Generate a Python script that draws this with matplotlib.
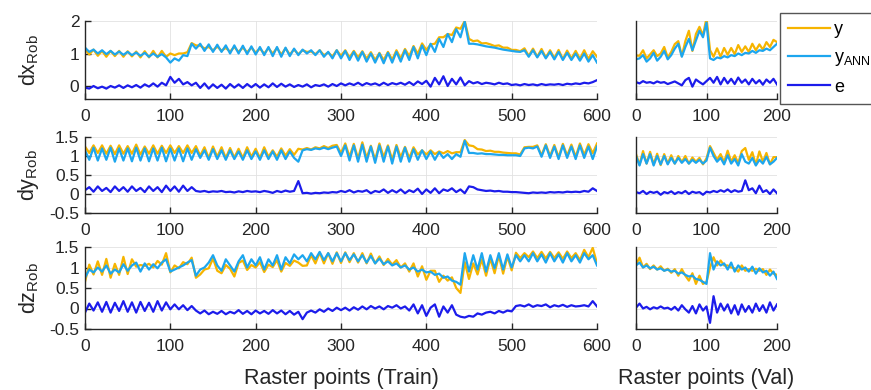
import numpy as np
import matplotlib
matplotlib.use("Agg")
import matplotlib.pyplot as plt

plt.rcParams['font.family'] = ['Liberation Sans', 'DejaVu Sans']
plt.rcParams['mathtext.fontset'] = 'custom'
plt.rcParams['mathtext.rm'] = 'Liberation Sans'
plt.rcParams['mathtext.it'] = 'Liberation Sans:italic'
plt.rcParams['axes.unicode_minus'] = False

# raster indices (every 5th point)
t_train = np.arange(0, 601, 5)
t_val = np.arange(0, 201, 5)

# --- dx_Rob ---------------------------------------------------------------
dx_ann_train = [
    1.18, 1.05, 1.12, 1.00, 1.10, 0.98, 1.08, 0.97, 1.06, 0.96,
    1.05, 0.95, 1.03, 0.93, 1.02, 0.90, 1.00, 0.90, 0.98, 0.88,
    0.72, 0.85, 0.78, 0.95, 0.92, 1.30, 1.15, 1.30, 1.08, 1.28,
    1.05, 1.27, 1.05, 1.25, 1.00, 1.25, 1.00, 1.24, 0.98, 1.22,
    0.97, 1.20, 0.95, 1.20, 0.92, 1.20, 0.90, 1.18, 0.92, 1.15,
    0.95, 1.12, 1.00, 1.10, 0.95, 1.10, 0.90, 1.05, 0.85, 1.10,
    0.85, 1.08, 0.80, 1.05, 0.78, 1.05, 0.75, 1.00, 0.72, 1.00,
    0.70, 1.02, 0.72, 1.05, 0.75, 1.10, 0.80, 1.20, 0.85, 1.25,
    0.95, 1.30, 1.05, 1.45, 1.20, 1.60, 1.35, 1.75, 1.50, 1.98,
    1.30, 1.30, 1.28, 1.25, 1.22, 1.20, 1.18, 1.15, 1.12, 1.10,
    1.08, 1.06, 1.05, 1.10, 0.90, 1.10, 0.88, 1.08, 0.85, 1.05,
    0.82, 1.05, 0.80, 1.02, 0.80, 1.00, 0.78, 1.00, 0.75, 0.95,
    0.72,
]
dx_err_train = [
    -0.05, -0.08, 0.00, -0.07, -0.02, -0.08, 0.00, -0.05, 0.02, -0.06,
    0.02, -0.04, 0.03, -0.05, 0.05, -0.02, 0.08, -0.02, 0.10, 0.02,
    0.28, 0.10, 0.22, 0.05, 0.12, 0.02, 0.10, -0.06, 0.08, -0.08,
    0.05, -0.06, 0.04, -0.08, 0.06, -0.05, 0.05, -0.06, 0.06, -0.04,
    0.06, -0.05, 0.05, -0.04, 0.08, -0.03, 0.07, -0.02, 0.05, -0.03,
    0.03, -0.02, 0.05, -0.04, 0.03, 0.00, 0.05, -0.02, 0.06, 0.00,
    0.08, 0.02, 0.08, 0.03, 0.10, 0.02, 0.09, 0.04, 0.08, 0.02,
    0.10, 0.03, 0.09, 0.05, 0.10, 0.04, 0.12, 0.03, 0.14, 0.06,
    0.16, -0.02, 0.25, 0.05, 0.30, 0.00, 0.22, 0.05, 0.26, 0.02,
    0.15, 0.08, 0.12, 0.06, 0.10, 0.08, 0.05, 0.10, 0.06, 0.08,
    0.03, 0.05, 0.02, 0.06, 0.03, 0.05, 0.02, 0.06, 0.03, 0.05,
    0.04, 0.06, 0.03, 0.07, 0.05, 0.08, 0.06, 0.10, 0.08, 0.12,
    0.18,
]
dx_ann_val = [
    0.82, 0.85, 0.95, 0.75, 0.85, 1.02, 0.78, 0.90, 1.08, 0.82,
    0.95, 1.15, 1.30, 0.90, 1.20, 1.45, 1.10, 1.40, 1.70, 1.50,
    1.95, 0.85, 0.80, 0.88, 0.85, 0.92, 0.88, 0.95, 0.92, 1.00,
    0.95, 1.02, 1.00, 1.08, 1.02, 1.10, 1.08, 1.15, 1.10, 1.20,
    1.30,
]
dx_err_val = [
    0.12, 0.08, 0.15, 0.10, 0.12, 0.08, 0.14, 0.10, 0.12, 0.06,
    0.10, 0.14, 0.08, 0.02, 0.18, 0.25, -0.02, 0.20, 0.12, 0.05,
    0.15, 0.25, 0.10, 0.28, 0.05, 0.25, 0.08, 0.22, 0.06, 0.26,
    0.10, 0.20, 0.05, 0.22, 0.08, 0.18, 0.04, 0.20, 0.10, 0.22,
    0.05,
]

# --- dy_Rob ---------------------------------------------------------------
dy_ann_train = [
    1.15, 0.90, 1.22, 0.88, 1.20, 0.90, 1.22, 0.85, 1.20, 0.88,
    1.20, 0.86, 1.22, 0.88, 1.20, 0.86, 1.20, 0.88, 1.22, 0.86,
    1.20, 0.88, 1.20, 0.86, 1.20, 0.90, 1.18,
    0.95, 1.15, 0.90, 1.18, 0.92, 1.15, 0.90, 1.15, 0.92, 1.12,
    0.90, 1.15, 0.92, 1.12, 0.90, 1.15, 0.92, 1.12, 0.90, 1.15,
    0.92, 1.12, 0.95, 0.85,
    1.15, 1.18, 1.16, 1.20, 1.18, 1.22, 1.18, 1.22, 1.25, 1.00,
    1.28, 0.88, 1.28, 0.85, 1.30, 0.85, 1.25, 0.82, 1.28, 0.85,
    1.25, 0.80, 1.25, 0.85, 1.22, 0.85, 1.18, 0.90, 1.15, 0.92,
    1.12, 0.90, 1.10, 0.95, 1.05, 0.92, 1.05, 0.98, 1.40, 1.08,
    1.08, 1.06, 1.07, 1.05, 1.05, 1.04, 1.03, 1.03, 1.02, 1.02,
    1.02, 1.00,
    1.20, 1.22, 1.20, 1.25, 0.98, 1.28, 0.95, 1.25, 0.92, 1.28,
    0.95, 1.25, 0.92, 1.28, 0.95, 1.25, 0.92, 1.25,
]
dy_err_train = [
    0.10, 0.18, 0.06, 0.20, 0.08, 0.16, 0.05, 0.20, 0.08, 0.18,
    0.06, 0.20, 0.08, 0.16, 0.05, 0.20, 0.08, 0.18, 0.05, 0.22,
    0.08, 0.20, 0.06, 0.22, 0.08, 0.18, 0.08,
    0.06, 0.08, 0.05, 0.07, 0.06, 0.08, 0.05, 0.06, 0.04, 0.07,
    0.05, 0.08, 0.06, 0.07, 0.05, 0.08, 0.06, 0.03, 0.08, 0.05,
    0.09, 0.06, 0.08, 0.34,
    0.02, 0.03, 0.01, 0.03, 0.02, 0.04, 0.03, 0.05, 0.04, 0.08,
    0.05, 0.10, 0.04, 0.08, 0.06, 0.10, 0.02, 0.08, 0.05, 0.12,
    0.03, 0.10, 0.04, 0.12, 0.02, 0.10, 0.05, 0.14, 0.00, 0.12,
    0.03, 0.15, 0.02, 0.12, 0.08, 0.15, 0.05, 0.12, 0.02, 0.20,
    0.18, 0.12, 0.10, 0.08, 0.09, 0.07, 0.08, 0.06, 0.06, 0.05,
    0.05, 0.04,
    0.03, 0.02, 0.04, 0.03, 0.04, 0.03, 0.05, 0.04, 0.05, 0.04,
    0.06, 0.05, 0.06, 0.05, 0.08, 0.06, 0.15, 0.08,
]
dy_ann_val = [
    1.00, 0.75, 1.05, 0.80, 1.05, 0.75, 1.00, 0.78, 1.00, 0.78,
    0.95, 0.80, 0.95, 0.82, 0.92, 0.80, 0.90, 0.82, 0.90, 0.80,
    0.88, 1.22, 1.00, 0.85, 0.95, 0.78, 1.02, 0.80, 0.92, 0.75,
    1.05, 0.85, 0.80, 0.95, 0.75, 0.90, 0.80, 0.98, 0.78, 0.85,
    0.95,
]
dy_err_val = [
    0.05, 0.02, 0.08, 0.00, 0.06, 0.03, 0.06, -0.02, 0.05, 0.02,
    0.07, 0.00, 0.05, 0.02, 0.08, 0.00, 0.06, 0.03, 0.05, -0.02,
    0.06, 0.04, 0.08, 0.05, 0.10, 0.06, 0.12, 0.05, 0.10, 0.06,
    0.08, 0.36, 0.10, 0.15, 0.02, 0.22, 0.05, 0.10, 0.00, 0.12,
    0.02,
]

# --- dz_Rob ---------------------------------------------------------------
dz_ann_train = [
    0.75, 0.95, 0.88, 1.00, 0.90, 1.05, 0.85, 0.95, 0.88, 1.08,
    0.92, 1.05, 1.12, 0.90, 1.10, 0.95, 1.08, 0.98, 1.12, 1.20,
    0.90, 0.95, 1.00, 1.05, 1.12, 1.18, 0.80, 0.95, 1.00, 1.12,
    1.30, 1.05, 0.92, 1.20, 1.05, 0.90, 1.15, 1.30, 1.00, 1.20,
    1.05, 1.25, 0.95, 1.20, 1.05, 1.30, 0.95, 1.25, 1.10, 1.32,
    1.20,
    1.30, 1.15, 1.35, 1.20, 1.38, 1.18, 1.35, 1.15, 1.35, 1.15,
    1.35, 1.18, 1.32, 1.15, 1.30, 1.12,
    1.28, 1.10, 1.22, 1.08, 1.15, 1.05, 1.10, 1.00, 1.05, 0.95,
    1.00, 0.90, 0.95, 0.88, 0.90, 0.82, 0.85, 0.75, 0.78, 0.68,
    0.65, 0.58,
    1.35, 0.90, 1.30, 0.95, 1.35, 0.90, 1.30, 0.98, 1.35, 0.95,
    1.32, 1.00, 1.30, 1.15,
    1.30, 1.15, 1.35, 1.15, 1.32, 1.12, 1.35, 1.15, 1.32, 1.12,
    1.35, 1.15, 1.30, 1.12, 1.35, 1.20, 1.30, 1.05,
]
dz_err_train = [
    -0.10, 0.12, -0.05, 0.15, -0.08, 0.16, -0.10, 0.14, -0.06, 0.18,
    -0.08, 0.15, -0.10, 0.16, -0.06, 0.14, -0.08, 0.18, -0.05, 0.15,
    -0.02,
    0.10, -0.02, 0.08, -0.04, 0.06, -0.05,
    -0.12, -0.05, -0.14, -0.08, -0.13, -0.06, -0.14, -0.08, -0.12, -0.04,
    -0.13, -0.06, -0.14, -0.05, -0.12, -0.06, -0.13, -0.04, -0.12, -0.05,
    -0.14, -0.06, -0.15, -0.08, -0.26, -0.10, -0.05, -0.10, -0.02, -0.08,
    0.00, -0.06, 0.02, -0.04,
    0.02, -0.05, 0.03, -0.03, 0.05, -0.02, 0.06, 0.00, 0.05, -0.02,
    0.06, 0.02, 0.08, 0.00, 0.05, -0.05, 0.10, -0.12, 0.08, -0.18,
    0.02, 0.10, -0.20, 0.05, -0.10, 0.08, -0.15, -0.20,
    -0.22, -0.18, -0.20, -0.12, -0.15, -0.10, -0.08, -0.12, -0.06, -0.10,
    -0.05, -0.07, 0.06, 0.08,
    0.05, 0.10, 0.04, 0.08, 0.06, 0.10, 0.03, 0.08, 0.05, 0.09,
    0.04, 0.08, 0.05, 0.06, 0.08, 0.05, 0.18, 0.05,
]
dz_ann_val = [
    1.05, 1.12, 1.00, 1.05, 0.98, 1.02, 0.95, 0.98, 0.92, 0.95,
    0.90, 0.92, 0.85, 0.88, 0.82, 0.78, 0.80, 0.72, 0.70, 0.65,
    0.60, 1.35, 0.95, 1.15, 1.05, 1.10, 0.95, 1.12, 0.90, 1.05,
    0.95, 1.00, 0.90, 1.02, 0.85, 0.98, 0.88, 0.92, 0.80, 0.90,
    0.72,
]
dz_err_val = [
    0.02, 0.12, 0.00, 0.04, -0.02, 0.03, 0.00, 0.05, 0.00, 0.02,
    -0.03, 0.04, -0.05, 0.08, -0.02, -0.10, 0.06, -0.12, 0.10, -0.05,
    0.05, -0.35, 0.30, -0.10, 0.12, -0.05, 0.10, -0.12, 0.08, -0.15,
    0.10, -0.08, 0.06, -0.10, 0.12, -0.06, 0.08, -0.10, 0.15, -0.05,
    0.10,
]

row_names = ['dx$_{\\mathrm{Rob}}$', 'dy$_{\\mathrm{Rob}}$', 'dz$_{\\mathrm{Rob}}$']
row_train = [(dx_ann_train, dx_err_train), (dy_ann_train, dy_err_train),
             (dz_ann_train, dz_err_train)]
row_val = [(dx_ann_val, dx_err_val), (dy_ann_val, dy_err_val),
           (dz_ann_val, dz_err_val)]
row_ylim = [(-0.4, 2.0), (-0.5, 1.5), (-0.5, 1.5)]
row_yticks = [[0, 1, 2], [-0.5, 0, 0.5, 1, 1.5], [-0.5, 0, 0.5, 1, 1.5]]
row_yticklabels = [['0', '1', '2'], ['-0.5', '0', '0.5', '1', '1.5'],
                   ['-0.5', '0', '0.5', '1', '1.5']]
legend_labels = ['y', 'y$_{\\mathrm{ANN}}$', 'e']

C_Y = '#F6B400'
C_ANN = '#1DA6EE'
C_E = '#1C1CEB'
C_AX = '#262626'

W, H = 871, 390
fig = plt.figure(figsize=(W / 100, H / 100), dpi=100)

# axes boxes in pixels: (top, bottom)
rows_px = [(21, 99), (137, 213), (247, 329)]
left_px = (85, 597)
right_px = (636, 777)


def box(xpx, ypx):
    return [xpx[0] / W, 1 - ypx[1] / H, (xpx[1] - xpx[0]) / W, (ypx[1] - ypx[0]) / H]


def style(ax, xmax, ylim, yticks, ylabels):
    ax.set_xlim(0, xmax)
    ax.set_ylim(*ylim)
    ax.set_xticks(range(0, xmax + 1, 100))
    ax.set_yticks(yticks)
    ax.set_yticklabels(ylabels)
    for s in ['top', 'right']:
        ax.spines[s].set_visible(False)
    for s in ['left', 'bottom']:
        ax.spines[s].set_color(C_AX)
        ax.spines[s].set_linewidth(1.0)
    ax.tick_params(direction='in', length=4, width=1.0, colors=C_AX,
                   labelsize=12.5)
    ax.tick_params(axis='x', pad=7)
    ax.tick_params(axis='y', pad=4)
    ax.grid(True, color='#e2e2e2', linewidth=0.6)
    ax.set_axisbelow(True)


axes_left = []
for i in range(3):
    ann, err = row_train[i]
    ann = np.array(ann)
    err = np.array(err)
    axL = fig.add_axes(box(left_px, rows_px[i]))
    axL.plot(t_train, ann + err, color=C_Y, lw=1.6)
    axL.plot(t_train, ann, color=C_ANN, lw=1.6)
    axL.plot(t_train, err, color=C_E, lw=1.6)
    style(axL, 600, row_ylim[i], row_yticks[i], row_yticklabels[i])
    axL.set_ylabel(row_names[i], fontsize=15.5, color=C_AX)
    axL.yaxis.set_label_coords(-0.085, 0.5)
    axes_left.append(axL)

    ann_v, err_v = row_val[i]
    ann_v = np.array(ann_v)
    err_v = np.array(err_v)
    axR = fig.add_axes(box(right_px, rows_px[i]))
    axR.plot(t_val, ann_v + err_v, color=C_Y, lw=1.6)
    axR.plot(t_val, ann_v, color=C_ANN, lw=1.6)
    axR.plot(t_val, err_v, color=C_E, lw=1.6)
    style(axR, 200, row_ylim[i], row_yticks[i], row_yticklabels[i])
    axR.tick_params(axis='y', length=0, labelleft=False)

    if i == 2:
        axL.set_xlabel('Raster points (Train)', fontsize=15.5, color=C_AX)
        axL.xaxis.set_label_coords(0.5, -0.47)
        axR.set_xlabel('Raster points (Val)', fontsize=15.5, color=C_AX)
        axR.xaxis.set_label_coords(0.5, -0.47)

# legend sits at the right edge of the figure and runs past it
leg = fig.legend(axes_left[0].get_lines(), legend_labels, loc='upper left',
                 bbox_to_anchor=(780 / W, 1 - 13 / H), fontsize=13,
                 frameon=True, fancybox=False, framealpha=1,
                 edgecolor='#555555', borderaxespad=0, borderpad=0.45,
                 handlelength=2.3, handletextpad=0.25, labelspacing=0.6)
leg.get_frame().set_linewidth(1.0)

fig.savefig('out.png', dpi=100)
